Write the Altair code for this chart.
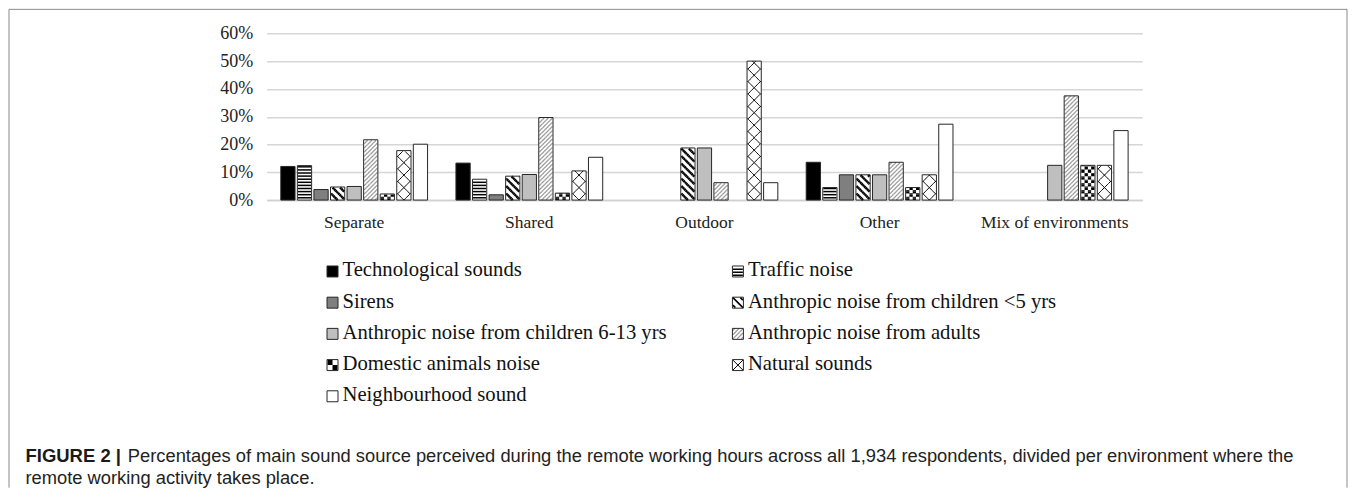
import math
import pandas as pd
import altair as alt

# ---------------- data (%) ----------------
environments = ["Separate", "Shared", "Outdoor", "Other", "Mix of environments"]
sources = [
    "Technological sounds",
    "Traffic noise",
    "Sirens",
    "Anthropic noise from children <5 yrs",
    "Anthropic noise from children 6-13 yrs",
    "Anthropic noise from adults",
    "Domestic animals noise",
    "Natural sounds",
    "Neighbourhood sound",
]
technological = [12.1, 13.3, 0.0, 13.6, 0.0]
traffic = [12.4, 7.5, 0.0, 4.5, 0.0]
sirens = [3.8, 1.9, 0.0, 9.1, 0.0]
children_under5 = [4.7, 8.6, 18.75, 9.1, 0.0]
children_6_13 = [4.9, 9.2, 18.75, 9.1, 12.5]
adults = [21.7, 29.7, 6.25, 13.6, 37.5]
domestic_animals = [2.2, 2.5, 0.0, 4.5, 12.5]
natural = [17.8, 10.5, 50.0, 9.1, 12.5]
neighbourhood = [20.1, 15.4, 6.25, 27.3, 25.0]
y_ticks = [0, 10, 20, 30, 40, 50, 60]

caption_label = "FIGURE 2 |"
caption_line1 = ("Percentages of main sound source perceived during the remote working hours "
                 "across all 1,934 respondents, divided per environment where the")
caption_line2 = "remote working activity takes place."

series = [technological, traffic, sirens, children_under5, children_6_13,
          adults, domestic_animals, natural, neighbourhood]

# ---------------- style ----------------
W, H = 877, 167
Y_MAX = 60
PX = H / Y_MAX
SERIF = "Liberation Serif"
SANS = "Liberation Sans"
fill_list = ["#000000", "#ffffff", "#7f7f7f", "#ffffff", "#bfbfbf",
             "#ffffff", "#ffffff", "#ffffff", "#ffffff"]
OUTLINE = "#262626"

pattern_specs = {
    "Traffic noise": dict(kind="lines", dirs=[0], period=3.1, phase=0.8, stroke="#000000", sw=1.5),
    "Anthropic noise from children <5 yrs": dict(kind="lines", dirs=[1], period=7.5, phase=0.0, stroke="#000000", sw=2.4),
    "Anthropic noise from adults": dict(kind="lines", dirs=[-1], period=4.2, phase=0.0, stroke="#9a9a9a", sw=1.3),
    "Domestic animals noise": dict(kind="checker", stroke="#000000"),
    "Natural sounds": dict(kind="lines", dirs=[1, -1], period=12.5, phase=0.0, stroke="#000000", sw=1.0),
}


def tile_path(spec, w, h, yc, cols=4, cell_h=3.4):
    """Pattern fragment inside a w x h tile whose centre sits at screen offset yc."""
    segs = []
    if spec["kind"] == "lines":
        P, phi = spec["period"], spec["phase"]
        for d in spec["dirs"]:
            if d == 0:
                n0 = math.floor((yc - h / 2 - phi) / P) - 1
                n1 = math.ceil((yc + h / 2 - phi) / P) + 1
                for n in range(n0, n1 + 1):
                    y = n * P + phi - yc
                    if -h / 2 <= y < h / 2:
                        segs.append(f"M{-w/2:.2f},{y:.2f}L{w/2:.2f},{y:.2f}")
            else:
                cmax = (w + h) / 2
                n0 = math.floor((-cmax - phi + yc) / P) - 1
                n1 = math.ceil((cmax - phi + yc) / P) + 1
                for n in range(n0, n1 + 1):
                    c = n * P + phi - yc
                    if d == 1:
                        lo, hi = max(-w / 2, -h / 2 - c), min(w / 2, h / 2 - c)
                    else:
                        lo, hi = max(-w / 2, c - h / 2), min(w / 2, c + h / 2)
                    if hi - lo > 1e-3:
                        segs.append(f"M{lo:.2f},{d*lo + c:.2f}L{hi:.2f},{d*hi + c:.2f}")
    else:
        sx, sy = w / cols, cell_h
        ytop, ybot = yc - h / 2, yc + h / 2
        for j in range(math.floor(-ybot / sy) - 1, math.ceil(-ytop / sy) + 2):
            a, b = max(ytop, -(j + 1) * sy), min(ybot, -j * sy)
            if b - a > 1e-3:
                for i in range(cols):
                    if (i + j) % 2 == 0:
                        x0 = -w / 2 + i * sx
                        segs.append(f"M{x0:.2f},{a-yc:.2f}H{x0+sx:.2f}V{b-yc:.2f}H{x0:.2f}Z")
    return "".join(segs)


# ---------------- tables ----------------
bars = pd.DataFrame([
    {"env": e, "source": s, "value": vals[i]}
    for s, vals in zip(sources, series)
    for i, e in enumerate(environments)
])

STEP = 0.5                 # tile height in % units
TILE_H = STEP * PX
TILE_W = 13.2
tiles = []
for s, vals in zip(sources, series):
    if s not in pattern_specs:
        continue
    for i, e in enumerate(environments):
        n = int(math.floor(vals[i] / STEP + 1e-9))
        for k in range(n):
            p = tile_path(pattern_specs[s], TILE_W, TILE_H, -(k + 0.5) * TILE_H)
            if p:
                tiles.append({"env": e, "source": s, "value": (k + 0.5) * STEP, "path": p})
tiles = pd.DataFrame(tiles)

legend_rows = []
for idx, s in enumerate(sources):
    p = ""
    if s in pattern_specs:
        p = tile_path(pattern_specs[s], 10, 10, 0.0, cols=2, cell_h=5)
    legend_rows.append({"source": s, "col": idx % 2, "row": idx // 2, "path": p})
legend_df = pd.DataFrame(legend_rows)

# ---------------- main chart ----------------
x_scale = alt.Scale(paddingInner=0.162, paddingOuter=0.081)
x_axis = alt.Axis(title=None, labelAngle=0, ticks=False, labelPadding=13,
                  labelFont=SERIF, labelFontSize=17.5, labelColor="#222222",
                  domainColor="#d0d0d0", domainWidth=1.5, grid=False)
y_scale = alt.Scale(domain=[0, Y_MAX], nice=False)
y_axis = alt.Axis(title=None, values=y_ticks, labelExpr="datum.value + '%'",
                  ticks=False, domain=False, labelPadding=14,
                  labelFont=SERIF, labelFontSize=18, labelColor="#222222",
                  gridColor="#d6d6d6", gridWidth=1.5)


def xe():
    return alt.X("env:N", sort=environments, scale=x_scale, axis=x_axis, title=None)


def ye():
    return alt.Y("value:Q", scale=y_scale, axis=y_axis, title=None)


xo_enc = alt.XOffset("source:N", sort=sources,
                     scale=alt.Scale(paddingInner=0.14, paddingOuter=0))
fill_enc = alt.Fill("source:N", sort=sources,
                    scale=alt.Scale(domain=sources, range=fill_list), legend=None)

bar_fill = alt.Chart(bars).transform_filter("datum.value > 0").mark_bar(strokeWidth=0).encode(
    x=xe(), xOffset=xo_enc, y=ye(), fill=fill_enc)

pattern_layers = []
for s, spec in pattern_specs.items():
    sub = tiles[tiles["source"] == s]
    if spec["kind"] == "checker":
        mk = alt.Chart(sub).mark_point(size=4, filled=True, fill=spec["stroke"],
                                       strokeWidth=0, opacity=1)
    else:
        mk = alt.Chart(sub).mark_point(size=4, filled=False, stroke=spec["stroke"],
                                       strokeWidth=spec["sw"], opacity=1, strokeCap="butt")
    pattern_layers.append(mk.encode(
        x=xe(), xOffset=xo_enc, y=ye(),
        shape=alt.Shape("path:N", scale=None),
    ))

bar_outline = alt.Chart(bars).transform_filter("datum.value > 0").mark_bar(
    fillOpacity=0, stroke=OUTLINE, strokeWidth=1).encode(x=xe(), xOffset=xo_enc, y=ye())

one = pd.DataFrame({"k": [0]})
FRAME = "#8a8a8a"
frame = [
    alt.Chart(one).mark_rule(color=FRAME, strokeWidth=1).encode(
        x=alt.value(-258), x2=alt.value(1082), y=alt.value(-24)),
    alt.Chart(one).mark_rule(color=FRAME, strokeWidth=1).encode(
        x=alt.value(-258), y=alt.value(-24), y2=alt.value(455)),
    alt.Chart(one).mark_rule(color=FRAME, strokeWidth=1).encode(
        x=alt.value(1082), y=alt.value(-24), y2=alt.value(455)),
]

main = alt.layer(bar_fill, *pattern_layers, bar_outline, *frame).properties(width=W, height=H)

# ---------------- legend chart ----------------
lx = alt.X("col:Q", scale=alt.Scale(domain=[0, 1], range=[66, 472]), axis=None)
ly = alt.Y("row:Q", scale=alt.Scale(domain=[0, 4], range=[61.5, 186.5]), axis=None)

leg_sym = alt.Chart(legend_df).mark_point(shape="square", size=121, filled=True,
                                          opacity=1, strokeWidth=0).encode(
    x=lx, y=ly, fill=fill_enc)
leg_pat = []
for s, spec in pattern_specs.items():
    sub = legend_df[legend_df["source"] == s]
    if spec["kind"] == "checker":
        mk = alt.Chart(sub).mark_point(size=4, filled=True, fill=spec["stroke"],
                                       strokeWidth=0, opacity=1)
    else:
        mk = alt.Chart(sub).mark_point(size=4, filled=False, stroke=spec["stroke"],
                                       strokeWidth=min(spec["sw"], 1.6), opacity=1)
    leg_pat.append(mk.encode(x=lx, y=ly, shape=alt.Shape("path:N", scale=None)))
leg_outline = alt.Chart(legend_df).mark_point(shape="square", size=121, filled=False,
                                              stroke=OUTLINE, strokeWidth=1, opacity=1).encode(
    x=lx, y=ly)
leg_text = alt.Chart(legend_df).mark_text(align="left", baseline="alphabetic", dx=10, dy=5,
                                          font=SERIF, fontSize=20.7, color="#111111").encode(
    x=lx, y=ly, text="source:N")

legend = alt.layer(leg_sym, *leg_pat, leg_outline, leg_text).properties(width=W, height=200)

# ---------------- caption chart ----------------
cap_bold = alt.Chart(one).mark_text(text=caption_label, align="left", baseline="alphabetic",
                                    font=SANS, fontWeight="bold", fontSize=18.5,
                                    color="#1a1a1a").encode(x=alt.value(-241.5), y=alt.value(42.2))
cap_1 = alt.Chart(one).mark_text(text=caption_line1, align="left", baseline="alphabetic",
                                 font=SANS, fontSize=18.35, color="#222222").encode(
    x=alt.value(-139), y=alt.value(42.2))
cap_2 = alt.Chart(one).mark_text(text=caption_line2, align="left", baseline="alphabetic",
                                 font=SANS, fontSize=18.35, color="#222222").encode(
    x=alt.value(-241.5), y=alt.value(64.5))
caption = alt.layer(cap_bold, cap_1, cap_2).properties(width=W, height=50)

chart = alt.vconcat(main, legend, caption, spacing=10, bounds="flush").properties(
    padding=0, background="white").configure_view(stroke=None)

chart.save("out.html", embed_options={"renderer": "svg", "actions": False})
